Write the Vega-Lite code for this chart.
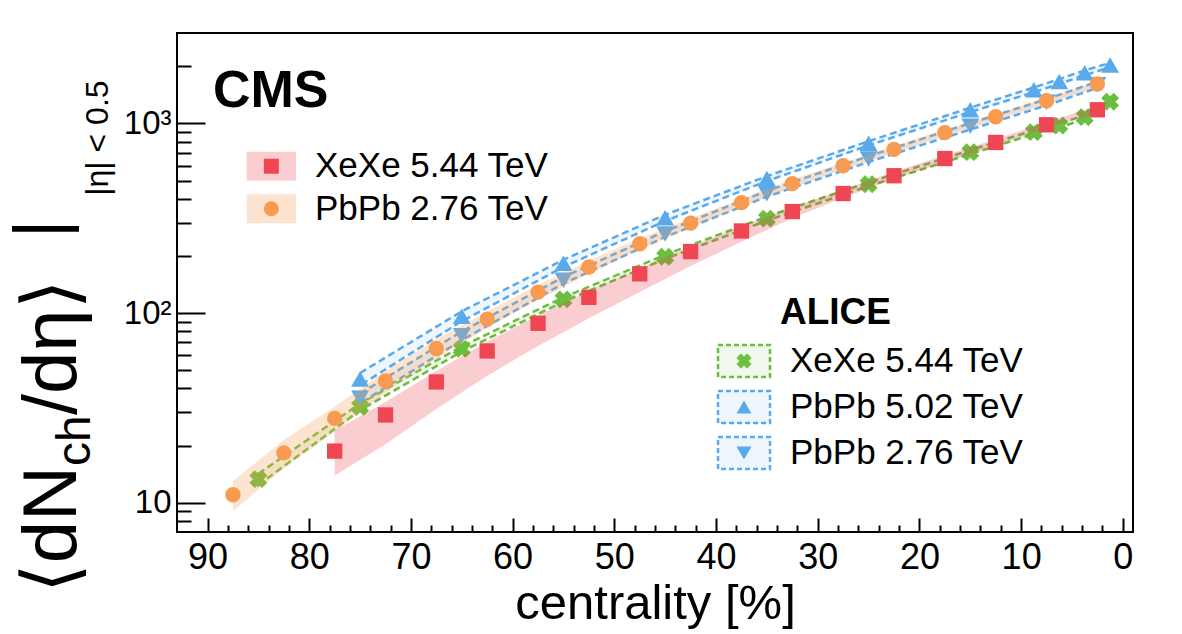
{
  "$schema": "https://vega.github.io/schema/vega-lite/v6.json",
  "width": 956,
  "height": 499,
  "autosize": {"type": "none"},
  "padding": {"left": 177, "top": 33, "right": 49, "bottom": 102},
  "background": "white",
  "config": {"view": {"stroke": "black", "strokeWidth": 2}, "font": "Liberation Sans"},
  "datasets": {
    "cms": [
      {"label": "XeXe 5.44 TeV", "c": 2.5, "v": 1181, "lo": 1134, "hi": 1228},
      {"label": "XeXe 5.44 TeV", "c": 7.5, "v": 984, "lo": 945, "hi": 1023},
      {"label": "XeXe 5.44 TeV", "c": 12.5, "v": 794, "lo": 762, "hi": 826},
      {"label": "XeXe 5.44 TeV", "c": 17.5, "v": 653, "lo": 627, "hi": 679},
      {"label": "XeXe 5.44 TeV", "c": 22.5, "v": 530, "lo": 509, "hi": 557},
      {"label": "XeXe 5.44 TeV", "c": 27.5, "v": 427, "lo": 406, "hi": 448},
      {"label": "XeXe 5.44 TeV", "c": 32.5, "v": 343, "lo": 316, "hi": 360},
      {"label": "XeXe 5.44 TeV", "c": 37.5, "v": 271, "lo": 238, "hi": 287},
      {"label": "XeXe 5.44 TeV", "c": 42.5, "v": 211, "lo": 177, "hi": 224},
      {"label": "XeXe 5.44 TeV", "c": 47.5, "v": 161, "lo": 129, "hi": 172},
      {"label": "XeXe 5.44 TeV", "c": 52.5, "v": 121, "lo": 94, "hi": 131},
      {"label": "XeXe 5.44 TeV", "c": 57.5, "v": 88.3, "lo": 67, "hi": 97},
      {"label": "XeXe 5.44 TeV", "c": 62.5, "v": 63.1, "lo": 46.7, "hi": 70.7},
      {"label": "XeXe 5.44 TeV", "c": 67.5, "v": 43.3, "lo": 31.2, "hi": 49.4},
      {"label": "XeXe 5.44 TeV", "c": 72.5, "v": 29.0, "lo": 20.3, "hi": 33.9},
      {"label": "XeXe 5.44 TeV", "c": 77.5, "v": 18.7, "lo": 13.9, "hi": 24.0},
      {"label": "PbPb 2.76 TeV", "c": 2.5, "v": 1615, "lo": 1558, "hi": 1672},
      {"label": "PbPb 2.76 TeV", "c": 7.5, "v": 1318, "lo": 1272, "hi": 1364},
      {"label": "PbPb 2.76 TeV", "c": 12.5, "v": 1085, "lo": 1047, "hi": 1123},
      {"label": "PbPb 2.76 TeV", "c": 17.5, "v": 895, "lo": 859, "hi": 931},
      {"label": "PbPb 2.76 TeV", "c": 22.5, "v": 730, "lo": 701, "hi": 759},
      {"label": "PbPb 2.76 TeV", "c": 27.5, "v": 598, "lo": 574, "hi": 622},
      {"label": "PbPb 2.76 TeV", "c": 32.5, "v": 482, "lo": 458, "hi": 506},
      {"label": "PbPb 2.76 TeV", "c": 37.5, "v": 382, "lo": 363, "hi": 401},
      {"label": "PbPb 2.76 TeV", "c": 42.5, "v": 298, "lo": 280, "hi": 316},
      {"label": "PbPb 2.76 TeV", "c": 47.5, "v": 232, "lo": 216, "hi": 248},
      {"label": "PbPb 2.76 TeV", "c": 52.5, "v": 175, "lo": 161, "hi": 189},
      {"label": "PbPb 2.76 TeV", "c": 57.5, "v": 129, "lo": 117, "hi": 141},
      {"label": "PbPb 2.76 TeV", "c": 62.5, "v": 92.8, "lo": 83.5, "hi": 102},
      {"label": "PbPb 2.76 TeV", "c": 67.5, "v": 65.0, "lo": 57.2, "hi": 72.8},
      {"label": "PbPb 2.76 TeV", "c": 72.5, "v": 43.8, "lo": 38.1, "hi": 49.5},
      {"label": "PbPb 2.76 TeV", "c": 77.5, "v": 27.8, "lo": 23.6, "hi": 32.0},
      {"label": "PbPb 2.76 TeV", "c": 82.5, "v": 18.3, "lo": 15.2, "hi": 21.4},
      {"label": "PbPb 2.76 TeV", "c": 87.5, "v": 11.0, "lo": 9.0, "hi": 13.0}
    ],
    "alice": [
      {"label": "XeXe 5.44 TeV", "c": 1.25, "v": 1302, "lo": 1285, "hi": 1319},
      {"label": "XeXe 5.44 TeV", "c": 3.75, "v": 1080, "lo": 1055, "hi": 1105},
      {"label": "XeXe 5.44 TeV", "c": 6.25, "v": 975, "lo": 952, "hi": 998},
      {"label": "XeXe 5.44 TeV", "c": 8.75, "v": 900, "lo": 879, "hi": 921},
      {"label": "XeXe 5.44 TeV", "c": 15, "v": 706, "lo": 689, "hi": 723},
      {"label": "XeXe 5.44 TeV", "c": 25, "v": 478, "lo": 467, "hi": 489},
      {"label": "XeXe 5.44 TeV", "c": 35, "v": 315, "lo": 307, "hi": 323},
      {"label": "XeXe 5.44 TeV", "c": 45, "v": 198, "lo": 193, "hi": 203},
      {"label": "XeXe 5.44 TeV", "c": 55, "v": 118, "lo": 115, "hi": 121},
      {"label": "XeXe 5.44 TeV", "c": 65, "v": 64.7, "lo": 62.7, "hi": 66.7},
      {"label": "XeXe 5.44 TeV", "c": 75, "v": 32.0, "lo": 30.7, "hi": 33.3},
      {"label": "XeXe 5.44 TeV", "c": 85, "v": 13.3, "lo": 12.4, "hi": 14.2},
      {"label": "PbPb 5.02 TeV", "c": 1.25, "v": 2035, "lo": 1983, "hi": 2087},
      {"label": "PbPb 5.02 TeV", "c": 3.75, "v": 1850, "lo": 1795, "hi": 1905},
      {"label": "PbPb 5.02 TeV", "c": 6.25, "v": 1666, "lo": 1618, "hi": 1714},
      {"label": "PbPb 5.02 TeV", "c": 8.75, "v": 1505, "lo": 1461, "hi": 1549},
      {"label": "PbPb 5.02 TeV", "c": 15, "v": 1180, "lo": 1149, "hi": 1211},
      {"label": "PbPb 5.02 TeV", "c": 25, "v": 786, "lo": 766, "hi": 806},
      {"label": "PbPb 5.02 TeV", "c": 35, "v": 512, "lo": 497, "hi": 527},
      {"label": "PbPb 5.02 TeV", "c": 45, "v": 318, "lo": 306, "hi": 330},
      {"label": "PbPb 5.02 TeV", "c": 55, "v": 183, "lo": 175, "hi": 191},
      {"label": "PbPb 5.02 TeV", "c": 65, "v": 96.3, "lo": 90.5, "hi": 102.1},
      {"label": "PbPb 5.02 TeV", "c": 75, "v": 44.9, "lo": 41.5, "hi": 48.3},
      {"label": "PbPb 2.76 TeV", "c": 2.5, "v": 1601, "lo": 1541, "hi": 1661},
      {"label": "PbPb 2.76 TeV", "c": 7.5, "v": 1294, "lo": 1245, "hi": 1343},
      {"label": "PbPb 2.76 TeV", "c": 15, "v": 966, "lo": 929, "hi": 1003},
      {"label": "PbPb 2.76 TeV", "c": 25, "v": 649, "lo": 626, "hi": 672},
      {"label": "PbPb 2.76 TeV", "c": 35, "v": 426, "lo": 411, "hi": 441},
      {"label": "PbPb 2.76 TeV", "c": 45, "v": 261, "lo": 252, "hi": 270},
      {"label": "PbPb 2.76 TeV", "c": 55, "v": 149, "lo": 143, "hi": 155},
      {"label": "PbPb 2.76 TeV", "c": 65, "v": 76, "lo": 72, "hi": 80},
      {"label": "PbPb 2.76 TeV", "c": 75, "v": 35.5, "lo": 33.4, "hi": 37.6}
    ]
  },
  "resolve": {
    "axis": {"x": "independent", "y": "independent"},
    "scale": {"color": "independent", "fill": "independent", "shape": "independent", "stroke": "independent"}
  },
  "layer": [
    {
      "data": {"name": "alice"},
      "mark": {"type": "area", "fillOpacity": 1, "strokeWidth": 2.5, "strokeDash": [7, 4]},
      "encoding": {
        "x": {"field": "c", "type": "quantitative",
          "scale": {"domain": [-1, 93], "reverse": true, "nice": false, "zero": false},
          "axis": {"orient": "bottom", "values": [0, 10, 20, 30, 40, 50, 60, 70, 80, 90], "tickSize": -14, "tickWidth": 2, "tickColor": "black", "domain": false, "grid": false,
            "labelFont": "Liberation Sans", "labelFontSize": 36, "labelColor": "black", "labelPadding": 22, "labelFlush": false, "labelOverlap": false, "labelBound": false,
            "title": "centrality [%]", "titleFont": "Liberation Sans", "titleFontSize": 49, "titleFontWeight": "normal", "titleColor": "black", "titlePadding": 4}},
        "y": {"field": "hi", "type": "quantitative",
          "scale": {"type": "log", "domain": [7, 3000], "nice": false},
          "axis": {"orient": "left", "values": [10, 100, 1000], "tickSize": -28, "tickWidth": 2, "tickColor": "black", "domain": false, "grid": false,
            "labelExpr": "datum.value == 10 ? '10' : (datum.value == 100 ? '10²' : '10³')",
            "labelFont": "Liberation Sans", "labelFontSize": 33, "labelColor": "black", "labelPadding": 34, "labelOverlap": false, "labelBound": false, "labelFlush": false, "title": null}},
        "y2": {"field": "lo"},
        "fill": {"field": "label", "type": "nominal",
          "scale": {"domain": ["XeXe 5.44 TeV", "PbPb 5.02 TeV", "PbPb 2.76 TeV"], "range": ["#f1f9ec", "#eef6fd", "#eef6fd"]},
          "legend": {"orient": "none", "legendX": 549.5, "legendY": 310.5, "title": null, "symbolType": "M-1.625,-1H1.625V1H-1.625Z", "symbolSize": 1024, "symbolStrokeWidth": 2.5, "symbolDash": [5, 3],
            "labelFont": "Liberation Sans", "labelFontSize": 35, "labelColor": "black", "labelOffset": 28.5, "labelLimit": 600, "rowPadding": 3, "padding": 0}},
        "stroke": {"field": "label", "type": "nominal",
          "scale": {"domain": ["XeXe 5.44 TeV", "PbPb 5.02 TeV", "PbPb 2.76 TeV"], "range": ["#6bbe3e", "#5aaaeb", "#5aaaeb"]},
          "legend": {"orient": "none", "legendX": 549.5, "legendY": 310.5, "title": null, "symbolType": "M-1.625,-1H1.625V1H-1.625Z", "symbolSize": 1024, "symbolStrokeWidth": 2.5, "symbolDash": [5, 3],
            "labelFont": "Liberation Sans", "labelFontSize": 35, "labelColor": "black", "labelOffset": 28.5, "labelLimit": 600, "rowPadding": 3, "padding": 0}}
      }
    },
    {
      "data": {"name": "alice"},
      "mark": {"type": "point", "filled": true, "size": 320, "opacity": 1},
      "encoding": {
        "x": {"field": "c", "type": "quantitative",
          "scale": {"domain": [-1, 93], "reverse": true, "nice": false, "zero": false},
          "axis": {"orient": "bottom", "values": [2, 4, 6, 8, 12, 14, 16, 18, 22, 24, 26, 28, 32, 34, 36, 38, 42, 44, 46, 48, 52, 54, 56, 58, 62, 64, 66, 68, 72, 74, 76, 78, 82, 84, 86, 88],
            "tickSize": -7, "tickWidth": 2, "tickColor": "black", "domain": false, "grid": false, "labels": false, "title": null}},
        "y": {"field": "v", "type": "quantitative",
          "scale": {"type": "log", "domain": [7, 3000], "nice": false},
          "axis": {"orient": "left", "values": [8, 9, 20, 30, 40, 50, 60, 70, 80, 90, 200, 300, 400, 500, 600, 700, 800, 900, 2000],
            "tickSize": -14, "tickWidth": 2, "tickColor": "black", "domain": false, "grid": false, "labels": false, "title": null}},
        "shape": {"field": "label", "type": "nominal",
          "scale": {"domain": ["XeXe 5.44 TeV", "PbPb 5.02 TeV", "PbPb 2.76 TeV"], "range": ["M-1,-0.4L-0.4,-1L0,-0.6L0.4,-1L1,-0.4L0.6,0L1,0.4L0.4,1L0,0.6L-0.4,1L-1,0.4L-0.6,0Z", "triangle-up", "triangle-down"]},
          "legend": {"orient": "none", "legendX": 549.5, "legendY": 310.5, "title": null, "symbolSize": 230, "symbolStrokeWidth": 0,
            "labelFontSize": 35, "labelExpr": "''", "labelOffset": 28.5, "labelLimit": 600, "rowPadding": 10, "padding": 0}},
        "color": {"field": "label", "type": "nominal",
          "scale": {"domain": ["XeXe 5.44 TeV", "PbPb 5.02 TeV", "PbPb 2.76 TeV"], "range": ["#6bbe3e", "#5aaaeb", "#5aaaeb"]},
          "legend": {"orient": "none", "legendX": 549.5, "legendY": 310.5, "title": null, "symbolSize": 230, "symbolStrokeWidth": 0,
            "labelFontSize": 35, "labelExpr": "''", "labelOffset": 28.5, "labelLimit": 600, "rowPadding": 10, "padding": 0}}
      }
    },
    {
      "data": {"name": "cms"},
      "mark": {"type": "area", "fillOpacity": 0.27},
      "encoding": {
        "x": {"field": "c", "type": "quantitative", "scale": {"domain": [-1, 93], "reverse": true, "nice": false, "zero": false}, "axis": null},
        "y": {"field": "hi", "type": "quantitative", "scale": {"type": "log", "domain": [7, 3000], "nice": false}, "axis": null},
        "y2": {"field": "lo"},
        "fill": {"field": "label", "type": "nominal",
          "scale": {"domain": ["XeXe 5.44 TeV", "PbPb 2.76 TeV"], "range": ["#ee4653", "#f89b50"]},
          "legend": {"orient": "none", "legendX": 76.85, "legendY": 115.7, "title": null, "symbolType": "M-1.409,-0.829H1.409V0.829H-1.409Z", "symbolSize": 1225, "symbolStrokeWidth": 0, "symbolOpacity": 0.27,
            "labelFont": "Liberation Sans", "labelFontSize": 35, "labelColor": "black", "labelOffset": 26.15, "labelLimit": 600, "rowPadding": 6.5, "padding": 0}}
      }
    },
    {
      "data": {"name": "cms"},
      "mark": {"type": "point", "filled": true, "size": 235, "opacity": 1},
      "encoding": {
        "x": {"field": "c", "type": "quantitative", "scale": {"domain": [-1, 93], "reverse": true, "nice": false, "zero": false}, "axis": null},
        "y": {"field": "v", "type": "quantitative", "scale": {"type": "log", "domain": [7, 3000], "nice": false}, "axis": null},
        "shape": {"field": "label", "type": "nominal",
          "scale": {"domain": ["XeXe 5.44 TeV", "PbPb 2.76 TeV"], "range": ["square", "circle"]},
          "legend": {"orient": "none", "legendX": 76.85, "legendY": 115.7, "title": null, "symbolSize": 225, "symbolStrokeWidth": 0,
            "labelFontSize": 35, "labelExpr": "''", "labelOffset": 26.15, "labelLimit": 600, "rowPadding": 6.5, "padding": 0}},
        "color": {"field": "label", "type": "nominal",
          "scale": {"domain": ["XeXe 5.44 TeV", "PbPb 2.76 TeV"], "range": ["#ee4653", "#f89b50"]},
          "legend": {"orient": "none", "legendX": 76.85, "legendY": 115.7, "title": null, "symbolSize": 225, "symbolStrokeWidth": 0,
            "labelFontSize": 35, "labelExpr": "''", "labelOffset": 26.15, "labelLimit": 600, "rowPadding": 6.5, "padding": 0}}
      }
    },
    {
      "data": {"values": [{}]},
      "mark": {"type": "text", "text": "CMS", "font": "Liberation Sans", "fontWeight": "bold", "fontSize": 52, "align": "left", "baseline": "alphabetic", "color": "black"},
      "encoding": {
        "x": {"datum": 89.46, "type": "quantitative", "scale": {"domain": [-1, 93], "reverse": true, "nice": false, "zero": false}, "axis": null},
        "y": {"datum": 1225, "type": "quantitative", "scale": {"type": "log", "domain": [7, 3000], "nice": false}, "axis": null}
      }
    },
    {
      "data": {"values": [{}]},
      "mark": {"type": "text", "text": "ALICE", "font": "Liberation Sans", "fontWeight": "bold", "fontSize": 37, "align": "left", "baseline": "alphabetic", "color": "black"},
      "encoding": {
        "x": {"datum": 33.71, "type": "quantitative", "scale": {"domain": [-1, 93], "reverse": true, "nice": false, "zero": false}, "axis": null},
        "y": {"datum": 87.6, "type": "quantitative", "scale": {"type": "log", "domain": [7, 3000], "nice": false}, "axis": null}
      }
    },
    {
      "data": {"values": [{}]},
      "mark": {"type": "text", "text": "⟨dN", "font": "Liberation Sans", "fontSize": 76, "angle": 270, "align": "left", "baseline": "alphabetic", "color": "black"},
      "encoding": {
        "x": {"datum": 102.93, "type": "quantitative", "scale": {"domain": [-1, 93], "reverse": true, "nice": false, "zero": false}, "axis": null},
        "y": {"datum": 3.33, "type": "quantitative", "scale": {"type": "log", "domain": [7, 3000], "nice": false}, "axis": null}
      }
    },
    {
      "data": {"values": [{}]},
      "mark": {"type": "text", "text": "ch", "font": "Liberation Sans", "fontSize": 48, "angle": 270, "align": "left", "baseline": "alphabetic", "color": "black"},
      "encoding": {
        "x": {"datum": 101.55, "type": "quantitative", "scale": {"domain": [-1, 93], "reverse": true, "nice": false, "zero": false}, "axis": null},
        "y": {"datum": 15.58, "type": "quantitative", "scale": {"type": "log", "domain": [7, 3000], "nice": false}, "axis": null}
      }
    },
    {
      "data": {"values": [{}]},
      "mark": {"type": "text", "text": "/dη⟩", "font": "Liberation Sans", "fontSize": 76, "angle": 270, "align": "left", "baseline": "alphabetic", "color": "black"},
      "encoding": {
        "x": {"datum": 102.93, "type": "quantitative", "scale": {"domain": [-1, 93], "reverse": true, "nice": false, "zero": false}, "axis": null},
        "y": {"datum": 28.97, "type": "quantitative", "scale": {"type": "log", "domain": [7, 3000], "nice": false}, "axis": null}
      }
    },
    {
      "data": {"values": [{}]},
      "mark": {"type": "text", "text": "|", "font": "Liberation Sans", "fontSize": 72, "angle": 270, "align": "center", "baseline": "alphabetic", "color": "black"},
      "encoding": {
        "x": {"datum": 104.15, "type": "quantitative", "scale": {"domain": [-1, 93], "reverse": true, "nice": false, "zero": false}, "axis": null},
        "y": {"datum": 278, "type": "quantitative", "scale": {"type": "log", "domain": [7, 3000], "nice": false}, "axis": null}
      }
    },
    {
      "data": {"values": [{}]},
      "mark": {"type": "text", "text": "|η| < 0.5", "font": "Liberation Sans", "fontSize": 32, "angle": 270, "align": "left", "baseline": "alphabetic", "color": "black"},
      "encoding": {
        "x": {"datum": 99.78, "type": "quantitative", "scale": {"domain": [-1, 93], "reverse": true, "nice": false, "zero": false}, "axis": null},
        "y": {"datum": 415.3, "type": "quantitative", "scale": {"type": "log", "domain": [7, 3000], "nice": false}, "axis": null}
      }
    }
  ]
}
